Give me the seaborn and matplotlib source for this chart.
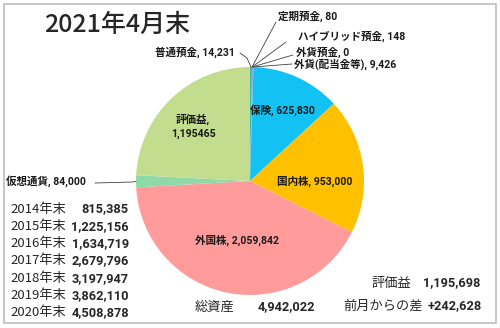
import numpy as np
import matplotlib
matplotlib.use("Agg")
import matplotlib.pyplot as plt
import seaborn as sns
from matplotlib.patches import Rectangle

sns.set_style("white")
plt.rcParams['font.family'] = ['Noto Sans CJK JP', 'DejaVu Sans']
NUMFONT = ['Roboto', 'Noto Sans CJK JP', 'DejaVu Sans']

# ---- data ----
categories = ["普通預金", "定期預金", "ハイブリッド預金", "外貨預金", "外貨(配当金等)",
              "保険", "国内株", "外国株", "仮想通貨", "評価益"]
values = [14231, 80, 148, 0, 9426, 625830, 953000, 2059842, 84000, 1195465]
value_labels = ["14,231", "80", "148", "0", "9,426", "625,830", "953,000",
                "2,059,842", "84,000", "1,195465"]
colors = ["#3FB8AF", "#5B9BD5", "#A5A5A5", "#4472C4", "#8FAADC",
          "#13C2F2", "#FFC000", "#FF9B9B", "#8FD9A8", "#C3DD8E"]

years = ["2014年末", "2015年末", "2016年末", "2017年末", "2018年末", "2019年末", "2020年末"]
year_totals = ["815,385", "1,225,156", "1,634,719", "2,679,796", "3,197,947", "3,862,110", "4,508,878"]
title = "2021年4月末"
total_label = ("総資産", "4,942,022")
gain_label = ("評価益", "1,195,698")
diff_label = ("前月からの差", "+242,628")

W, H = 500, 328
fig = plt.figure(figsize=(W / 100, H / 100), dpi=100)
fig.patch.set_facecolor("white")


def px(x, y):
    return (x / W, 1 - y / H)


# border
fig.patches.append(Rectangle(px(4, 323), 492 / W, 319 / H, transform=fig.transFigure,
                             fill=False, edgecolor="#BDBDBD", linewidth=1.2))

cx, cy, r = 250, 181, 114
ax = fig.add_axes([(cx - r) / W, (H - cy - r) / H, 2 * r / W, 2 * r / H])
wedges, _ = ax.pie(values, colors=colors, startangle=90, counterclock=False,
                   wedgeprops=dict(linewidth=0))
ax.set_xlim(-1, 1)
ax.set_ylim(-1, 1)
ax.set_aspect("equal")
ax.axis("off")


def mid(i):
    w = wedges[i]
    a = np.deg2rad((w.theta1 + w.theta2) / 2)
    return np.cos(a), np.sin(a)


lab_kw = dict(fontsize=7.6, color="#1a1a1a", va="center", fontweight="bold", family=NUMFONT)

# inside labels
ax.text(0.0, 0.62, f"{categories[5]}, {value_labels[5]}", ha="left", **lab_kw)
ax.text(0.24, 0.0, f"{categories[6]}, {value_labels[6]}", ha="left", **lab_kw)
ax.text(-0.48, -0.52, f"{categories[7]}, {value_labels[7]}", ha="left", **lab_kw)
ax.text(-0.5, 0.48, f"{categories[9]},\n{value_labels[9]}", ha="center",
        linespacing=1.5, **lab_kw)

# outside labels with leader lines
outside = [
    (0, (155, 52), [(240, 53), (247, 58)]),
    (1, (278, 16), [(276, 22)]),
    (2, (298, 36), [(286, 42)]),
    (3, (296, 52), [(293, 55)]),
    (4, (294, 64), [(292, 64)]),
    (8, (6, 181), [(95, 183), (133, 182)]),
]
for i, (tx, ty), pts in outside:
    fig.text(*px(tx, ty), f"{categories[i]}, {value_labels[i]}", ha="left", **lab_kw)
    mx, my = mid(i)
    ex = cx + mx * r
    ey = cy - my * r
    xs = [p[0] for p in pts] + [ex]
    ys = [p[1] for p in pts] + [ey]
    fig.add_artist(plt.Line2D([x / W for x in xs], [1 - y / H for y in ys],
                              color="#404040", linewidth=0.6, transform=fig.transFigure))

# title
fig.text(*px(44, 25), title, fontsize=18, ha="left", va="center", fontweight="medium")

num_kw = dict(fontsize=9.2, va="center", fontweight="bold", family=NUMFONT)

# year list
for k, (yl, yv) in enumerate(zip(years, year_totals)):
    y = 209 + k * 17.3
    fig.text(*px(10, y), yl, fontsize=9.5, ha="left", va="center")
    fig.text(*px(129, y), yv, ha="right", **num_kw)

# totals
fig.text(*px(195, 307), total_label[0], fontsize=9.5, ha="left", va="center")
fig.text(*px(258, 307), total_label[1], ha="left", **num_kw)
fig.text(*px(372, 283), gain_label[0], fontsize=9.5, ha="left", va="center")
fig.text(*px(423, 283), gain_label[1], ha="left", **num_kw)
fig.text(*px(343, 306), diff_label[0], fontsize=9.5, ha="left", va="center")
fig.text(*px(428, 306), diff_label[1], ha="left", **num_kw)

fig.savefig("out.png", dpi=100)
